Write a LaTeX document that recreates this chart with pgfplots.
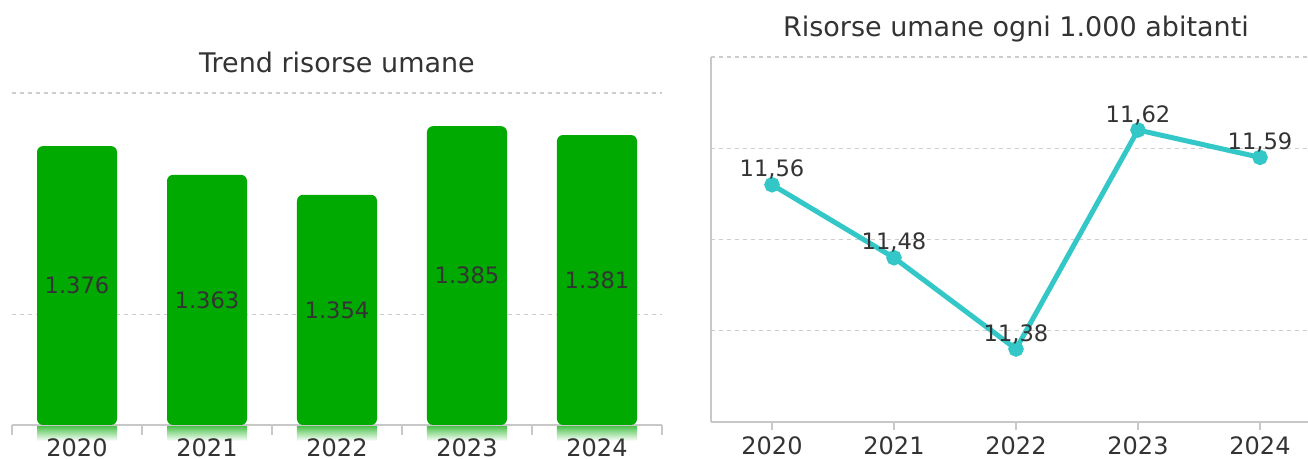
\documentclass[border=0pt]{standalone}
\usepackage{fontspec}
\setmainfont{DejaVu Sans}
\usepackage{pgfplots}
\pgfplotsset{compat=1.18}
\usepackage{pgfplotstable}

\definecolor{barg}{RGB}{0,170,0}
\definecolor{linec}{RGB}{51,199,199}
\definecolor{txt}{RGB}{51,51,51}
\definecolor{gridc}{RGB}{205,205,205}
\definecolor{axc}{RGB}{200,200,200}

% bars: value, middle of the visible bar (for the label), label
\pgfplotstableread{
x v mid label
0 1376 1313 1.376
1 1363 1306.5 1.363
2 1354 1302 1.354
3 1385 1317.5 1.385
4 1381 1315.5 1.381
}\risorse

\pgfplotstableread{
x y label
0 11.56 11,56
1 11.48 11,48
2 11.38 11,38
3 11.62 11,62
4 11.59 11,59
}\abitanti

\begin{document}
\begin{tikzpicture}
\useasboundingbox (0pt,0pt) rectangle (654pt,229.5pt);

% fading reflection under the bars
\begin{axis}[
at={(6pt,17pt)}, anchor=north west,
scale only axis, width=325pt, height=8pt,
xmin=-0.5, xmax=4.5, ymin=0, ymax=1,
hide axis,
]
\addplot[ybar, bar width=40pt, draw=none, top color=barg!75, bottom color=white]
  coordinates {(0,1) (1,1) (2,1) (3,1) (4,1)};
\end{axis}

% left: bar chart
\begin{axis}[
at={(6pt,17pt)}, anchor=south west,
scale only axis, width=325pt, height=166pt,
xmin=-0.5, xmax=4.5, ymin=1250, ymax=1400,
axis x line*=bottom, axis y line*=left,
x axis line style={axc, line width=0.8pt},
y axis line style={draw=none},
xtick={-0.5,0.5,1.5,2.5,3.5,4.5},
x tick label as interval,
xticklabels={2020,2021,2022,2023,2024},
tick align=outside, major tick length=5pt,
xtick style={axc, line width=0.8pt},
x tick label style={font=\fontsize{12}{14}\selectfont, text=txt, yshift=1.5pt},
ytick={1300,1400}, yticklabels={},
ytick style={draw=none},
ymajorgrids,
grid style={gridc, dash pattern=on 2pt off 2pt, line width=0.6pt},
title={Trend risorse umane},
title style={font=\fontsize{13.5}{16}\selectfont, text=txt, at={(0.5,1)}, anchor=center, yshift=9.5pt},
]
\addplot[ybar, bar width=40pt, fill=barg, draw=none, rounded corners=3pt]
  table[x=x, y=v] {\risorse};
\addplot[draw=none, mark=none, nodes near coords, point meta=explicit symbolic,
  nodes near coords style={anchor=center, font=\fontsize{11.3}{13}\selectfont, text=txt}]
  table[x=x, y=mid, meta=label] {\risorse};
\end{axis}

% right: line chart
\begin{axis}[
at={(355.5pt,18.5pt)}, anchor=south west,
scale only axis, width=305pt, height=182.5pt,
xmin=-0.5, xmax=4.5, ymin=11.3, ymax=11.7,
axis x line*=bottom, axis y line*=left,
axis line style={axc, line width=0.8pt},
xtick={0,1,2,3,4},
xticklabels={2020,2021,2022,2023,2024},
tick align=outside, major tick length=4pt,
xtick style={axc, line width=0.8pt},
x tick label style={font=\fontsize{12}{14}\selectfont, text=txt},
ytick={11.4,11.5,11.6,11.7}, yticklabels={},
ytick style={draw=none},
ymajorgrids,
grid style={gridc, dash pattern=on 2pt off 2pt, line width=0.6pt},
title={Risorse umane ogni 1.000 abitanti},
title style={font=\fontsize{13.5}{16}\selectfont, text=txt, at={(0.5,1)}, anchor=center, yshift=8pt},
clip=false,
]
\addplot[linec, line width=2.5pt, mark=*, mark size=2.6pt,
  nodes near coords, point meta=explicit symbolic,
  nodes near coords style={font=\fontsize{11.3}{13}\selectfont, text=txt, yshift=-2pt}]
  table[x=x, y=y, meta=label] {\abitanti};
\end{axis}
\end{tikzpicture}
\end{document}
